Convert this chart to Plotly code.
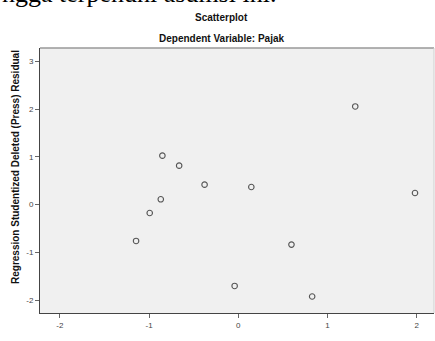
import plotly.graph_objects as go

pred = [1.311, -0.851, -0.663, -0.378, 0.146, 1.981, -0.869, -0.993, -1.146, 0.596, -0.041, 0.828]
resid = [2.056, 1.025, 0.816, 0.418, 0.368, 0.243, 0.111, -0.176, -0.761, -0.837, -1.703, -1.925]
xticks = [-2, -1, 0, 1, 2]
yticks = [-2, -1, 0, 1, 2, 3]

fig = go.Figure()
fig.add_trace(go.Scatter(
    x=pred, y=resid, mode="markers",
    marker=dict(symbol="circle-open", size=5.5, color="#555555", line=dict(width=1.1, color="#555555")),
    hoverinfo="skip", showlegend=False,
))

axis_common = dict(
    showgrid=False, zeroline=False, showline=True, linecolor="#444444", linewidth=1,
    ticks="outside", ticklen=4, tickcolor="#666666", tickwidth=1,
    tickfont=dict(family="Liberation Sans, Arial", size=8, color="#444444"),
)
fig.update_xaxes(range=[-2.223, 2.194], tickvals=xticks, ticktext=[str(t) for t in xticks], **axis_common)
fig.update_yaxes(range=[-2.27, 3.28], tickvals=yticks, ticktext=[str(t) for t in yticks], **axis_common)

fig.update_layout(
    width=435, height=341,
    margin=dict(l=40, r=1, t=48, b=28),
    paper_bgcolor="white", plot_bgcolor="#f0f0f0",
    font=dict(family="Liberation Sans, Arial", color="#111111"),
    shapes=[
        dict(type="line", xref="paper", yref="paper", x0=0, x1=1, y0=1, y1=1,
             line=dict(color="#999999", width=1.5)),
        dict(type="line", xref="paper", yref="paper", x0=1, x1=1, y0=0, y1=1,
             line=dict(color="#d0d0d0", width=1)),
    ],
    annotations=[
        dict(text="ngga terpenuhi asumsi ini.", xref="paper", yref="paper",
             x=-40/394, y=(265+48-7)/265, xanchor="left", yanchor="bottom", yshift=-3,
             showarrow=False, font=dict(family="Liberation Serif, Times New Roman", size=26, color="black")),
        dict(text="<b>Scatterplot</b>", xref="paper", yref="paper", x=(221-40)/394, y=(313-17)/265,
             xanchor="center", yanchor="middle", showarrow=False,
             font=dict(family="Liberation Sans, Arial", size=10, color="#111111")),
        dict(text="<b>Dependent Variable: Pajak</b>", xref="paper", yref="paper", x=(221-40)/394, y=(313-38)/265,
             xanchor="center", yanchor="middle", showarrow=False,
             font=dict(family="Liberation Sans, Arial", size=10, color="#111111")),
        dict(text="<b>Regression Studentized Deleted (Press) Residual</b>", xref="paper", yref="paper",
             x=(15-40)/394, y=(313-167)/265, xanchor="center", yanchor="middle", textangle=-90,
             showarrow=False, font=dict(family="Liberation Sans, Arial", size=10, color="#111111")),
        dict(text="<b>Regression Standardized Predicted Value</b>", xref="paper", yref="paper",
             x=(239-40)/394, y=(313-345)/265, xanchor="center", yanchor="middle",
             showarrow=False, font=dict(family="Liberation Sans, Arial", size=10, color="#111111")),
    ],
)

fig.write_html("out.html", config={"displayModeBar": False},
               post_script="document.body.style.margin='0';")
